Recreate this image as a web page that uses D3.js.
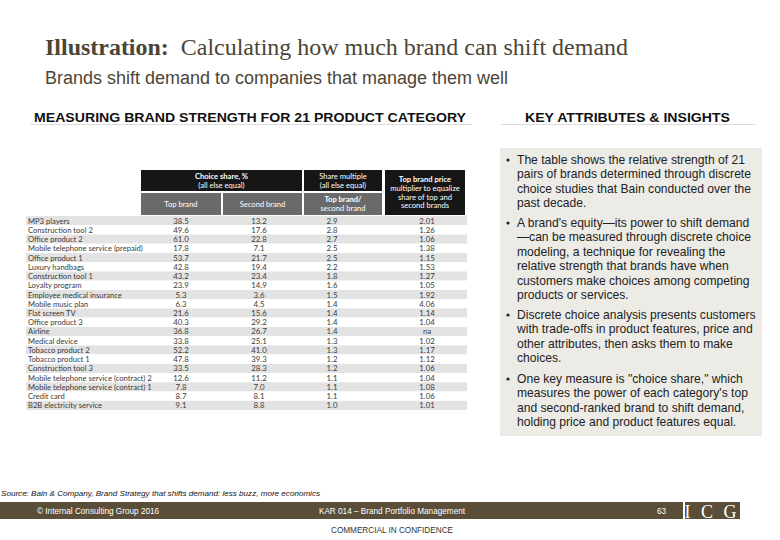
<!DOCTYPE html>
<html><head><meta charset="utf-8">
<script src="https://cdn.jsdelivr.net/npm/d3@7"></script>
<style>body{margin:0;background:#fff}svg{display:block}</style>
</head><body>
<script>
const categories = ["MP3 players","Construction tool  2","Office product 2","Mobile telephone service (prepaid)","Office product 1","Luxury handbags","Construction tool 1","Loyalty program","Employee medical insurance","Mobile music plan","Flat screen TV","Office product 3","Airline","Medical device","Tobacco product 2","Tobacco product 1","Construction tool 3","Mobile telephone service (contract) 2","Mobile telephone service (contract) 1","Credit card","B2B electricity service"];
const topBrand = [38.5,49.6,61.0,17.8,53.7,42.8,43.2,23.9,5.3,6.3,21.6,40.3,36.8,33.8,52.2,47.8,33.5,12.6,7.8,8.7,9.1];
const secondBrand = [13.2,17.6,22.8,7.1,21.7,19.4,23.4,14.9,3.6,4.5,15.6,29.2,26.7,25.1,41.0,39.3,28.3,11.2,7.0,8.1,8.8];
const shareMultiple = [2.9,2.8,2.7,2.5,2.5,2.2,1.8,1.6,1.5,1.4,1.4,1.4,1.4,1.3,1.3,1.2,1.2,1.1,1.1,1.1,1.0];
const priceMultiplier = [2.01,1.26,1.06,1.38,1.15,1.53,1.27,1.05,1.92,4.06,1.14,1.04,null,1.02,1.17,1.12,1.06,1.04,1.08,1.06,1.01];
const bullets = [
 ["The table shows the relative strength of 21","pairs of brands determined through discrete","choice studies that Bain conducted over the","past decade."],
 ["A brand's equity\u2014its power to shift demand","\u2014can be measured through discrete choice","modeling, a technique for revealing the","relative strength that brands have when","customers make choices among competing","products or services."],
 ["Discrete choice analysis presents customers","with trade-offs in product features, price and","other attributes, then asks them to make","choices."],
 ["One key measure is \"choice share,\" which","measures the power of each category's top","and second-ranked brand to shift demand,","holding price and product features equal."]
];

const W = 780, H = 540;
const svg = d3.select("body").append("svg").attr("width", W).attr("height", H);
const brown = "#4b4536";

// Titles
const t = svg.append("text").attr("x", 45).attr("y", 55).attr("font-family", "'Liberation Serif','Times New Roman',serif").attr("font-size", 24).attr("fill", brown)
  .attr("textLength", 583).attr("lengthAdjust", "spacingAndGlyphs");
t.append("tspan").attr("font-weight", "bold").text("Illustration:");
t.append("tspan").text("\u00a0 Calculating how much brand can shift demand");
svg.append("text").attr("x", 45).attr("y", 84).attr("font-family", "'Liberation Sans',Arial,sans-serif").attr("font-size", 18).attr("fill", brown)
  .attr("textLength", 463).attr("lengthAdjust", "spacingAndGlyphs").text("Brands shift demand to companies that manage them well");

// Section heads
svg.append("text").attr("x", 34).attr("y", 122).attr("font-family", "'Liberation Sans',Arial,sans-serif").attr("font-size", 13).attr("font-weight", "bold").attr("fill", "#111")
  .attr("textLength", 432).attr("lengthAdjust", "spacingAndGlyphs").text("MEASURING BRAND STRENGTH FOR 21 PRODUCT CATEGORY");
svg.append("text").attr("x", 525).attr("y", 122).attr("font-family", "'Liberation Sans',Arial,sans-serif").attr("font-size", 13).attr("font-weight", "bold").attr("fill", "#111")
  .attr("textLength", 205).attr("lengthAdjust", "spacingAndGlyphs").text("KEY ATTRIBUTES & INSIGHTS");
svg.append("line").attr("x1", 30).attr("x2", 472).attr("y1", 124.5).attr("y2", 124.5).attr("stroke", "#dcdcdc");
svg.append("line").attr("x1", 501).attr("x2", 756).attr("y1", 124.5).attr("y2", 124.5).attr("stroke", "#dcdcdc");

// Table
const y = d3.scaleBand().domain(categories).range([216, 410]);
const cols = ["top","second","mult","price"];
const colX = d3.scaleOrdinal().domain(cols).range([181, 259, 332, 427]);
const tf = "'Lato','Liberation Sans',Arial,sans-serif";

const rows = svg.append("g");
rows.selectAll("rect").data(categories).join("rect")
  .attr("x", 26).attr("width", 441).attr("y", d => y(d)).attr("height", y.bandwidth())
  .attr("fill", (d,i) => i % 2 === 0 ? "#e3e3e3" : "#fff");
rows.selectAll("text.lab").data(categories).join("text").attr("class","lab")
  .attr("x", 28).attr("y", d => y(d) + y.bandwidth()/2 + 3)
  .attr("font-family", tf).attr("font-size", 7.6).attr("fill", "#3a3a3a").text(d => d);
const f1 = d3.format(".1f"), f2 = d3.format(".2f");
const cells = [[topBrand,"top",f1],[secondBrand,"second",f1],[shareMultiple,"mult",f1],[priceMultiplier,"price",f2]];
cells.forEach(([arr,key,fmt]) => {
  rows.selectAll("text.c-"+key).data(arr).join("text").attr("class","c-"+key)
    .attr("x", colX(key)).attr("y", (d,i) => y(categories[i]) + y.bandwidth()/2 + 3)
    .attr("text-anchor","middle").attr("font-family", tf).attr("font-size", 7.8).attr("fill", "#3a3a3a")
    .text(d => d == null ? "na" : fmt(d));
});

// Header
const hdr = svg.append("g").attr("font-family", tf).attr("font-size", 7.6).attr("fill", "#fff").attr("text-anchor","middle");
const boxes = [
  {x:141,w:161,y:170,h:21,fill:"#161616",lines:["Choice share, %","(all else equal)"],bold:true},
  {x:304,w:78,y:170,h:21,fill:"#161616",lines:["Share multiple","(all else equal)"],bold:false},
  {x:385,w:80,y:170,h:45,fill:"#161616",lines:["Top brand price","multiplier to equalize","share of top and","second brands"],bold:true},
  {x:141,w:80,y:193,h:22,fill:"#6a6a6a",lines:["Top brand"],bold:false},
  {x:223,w:79,y:193,h:22,fill:"#6a6a6a",lines:["Second brand"],bold:false},
  {x:304,w:78,y:193,h:22,fill:"#6a6a6a",lines:["Top brand/","second brand"],bold:true}
];
boxes.forEach(b => {
  hdr.append("rect").attr("x", b.x).attr("y", b.y).attr("width", b.w).attr("height", b.h).attr("fill", b.fill);
  const lh = 8.8, n = b.lines.length;
  b.lines.forEach((l,i) => {
    hdr.append("text").attr("x", b.x + b.w/2).attr("y", b.y + b.h/2 + (i - (n-1)/2)*lh + 2.7)
      .attr("font-weight", i===0 && b.bold ? "bold" : "normal").attr("fill","#fff").text(l);
  });
});

// Right box
svg.append("rect").attr("x", 500).attr("y", 148).attr("width", 262).attr("height", 288).attr("fill", "#ecebe6");
const bstarts = [164, 227, 319, 383];
const bg = svg.append("g").attr("font-family", "'Liberation Sans',Arial,sans-serif").attr("font-size", 12.1).attr("fill", "#222");
bullets.forEach((b, bi) => {
  bg.append("circle").attr("cx", 508).attr("cy", bstarts[bi] - 4).attr("r", 1.6).attr("fill", "#222");
  b.forEach((l, li) => bg.append("text").attr("x", 517).attr("y", bstarts[bi] + li*14.4).text(l));
});

// Footer
svg.append("text").attr("x", 1).attr("y", 496).attr("font-family", "'Liberation Sans',Arial,sans-serif").attr("font-size", 8).attr("font-style","italic").attr("fill", "#111")
  .attr("textLength", 319).attr("lengthAdjust", "spacingAndGlyphs")
  .text("Source:  Bain & Company, Brand Strategy that shifts demand: less buzz, more economics");
svg.append("rect").attr("x", 0).attr("y", 502).attr("width", 683).attr("height", 17).attr("fill", "#5a4e38");
svg.append("rect").attr("x", 685).attr("y", 502).attr("width", 55).attr("height", 17).attr("fill", "#5a4e38");
const ff = svg.append("g").attr("font-family", "'Liberation Sans',Arial,sans-serif").attr("font-size", 8.2).attr("fill", "#fff");
ff.append("text").attr("x", 37).attr("y", 514).text("\u00a9 Internal Consulting Group 2016");
ff.append("text").attr("x", 392).attr("y", 514).attr("text-anchor","middle").text("KAR 014 \u2013 Brand Portfolio Management");
ff.append("text").attr("x", 657).attr("y", 514).text("63");
svg.append("text").attr("x", 712).attr("y", 518).attr("text-anchor","middle").attr("font-family","'Liberation Serif',serif").attr("font-size", 18).attr("fill", "#fff").attr("letter-spacing", 3).text("I C G");
svg.append("text").attr("x", 392).attr("y", 533).attr("text-anchor","middle").attr("font-family", "'Liberation Sans',Arial,sans-serif").attr("font-size", 8.2).attr("fill", "#333").text("COMMERCIAL IN CONFIDENCE");
</script>
</body></html>
